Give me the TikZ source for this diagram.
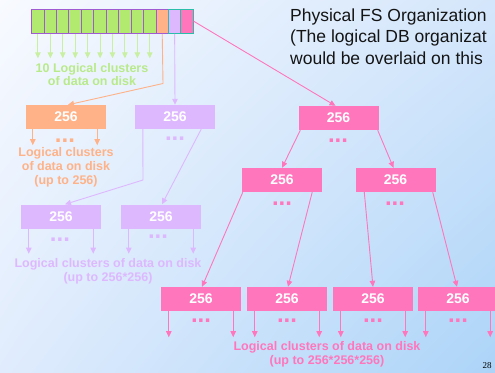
\documentclass[tikz,border=0pt]{standalone}
\usepackage{fontspec}
\setmainfont{Liberation Sans}
\newfontfamily\serifnum{Liberation Serif}
\usetikzlibrary{arrows.meta,shadings}
\definecolor{bgA}{RGB}{248,250,255}
\definecolor{bgB}{RGB}{212,230,251}
\definecolor{bgC}{RGB}{224,236,253}
\definecolor{bgD}{RGB}{172,212,248}
\definecolor{cellgreen}{RGB}{178,234,112}
\definecolor{cellpurple}{RGB}{160,90,210}
\definecolor{cellteal}{RGB}{40,190,170}
\definecolor{orangeC}{RGB}{255,178,135}
\definecolor{lavC}{RGB}{222,184,255}
\definecolor{pinkC}{RGB}{255,118,188}
\definecolor{greenT}{RGB}{184,234,138}
\definecolor{greenA}{RGB}{200,240,160}
\tikzset{
  cellbox/.style={draw=cellpurple,line width=1pt,minimum width=12.43pt,minimum height=24pt,inner sep=0pt,anchor=center},
  blk/.style={fill=#1,minimum width=80pt,minimum height=24pt,inner sep=0pt,text=white,font=\fontsize{14}{14}\selectfont\bfseries},
  arr/.style={draw=#1,line width=0.9pt,-{Triangle[width=5.5pt,length=6pt]}},
  dots/.style={text=#1,font=\fontsize{24}{24}\selectfont\bfseries,inner sep=0pt,anchor=base},
  lbl/.style={text=#1,font=\fontsize{12.5}{13.5}\selectfont\bfseries,align=center,inner sep=0pt},
  ttl/.style={anchor=base west,inner sep=0pt,text={rgb,255:red,20;green,20;blue,20},font=\fontsize{17.5}{17.5}\selectfont}
}
\begin{document}
\begin{tikzpicture}[x=1pt,y=-1pt]
\useasboundingbox (0,0) rectangle (495,372);
\clip (0,0) rectangle (495,372);
\shade[upper left=bgA,upper right=bgB,lower left=bgC,lower right=bgD] (0,0) rectangle (495,372);

% strip of clusters
\foreach \i in {1,...,10}{
  \node[cellbox,fill=cellgreen] (c\i) at ({31.7+(\i-0.5)*12.43},21.3) {};
}
\node[cellbox,fill=orangeC] (c11) at ({31.7+10.5*12.43},21.3) {};
\node[cellbox,fill=lavC,draw=cellteal] (c12) at ({31.7+11.5*12.43},21.3) {};
\node[cellbox,fill=pinkC,draw=cellteal] (c13) at ({31.7+12.5*12.43},21.3) {};

\foreach \i in {1,...,10}{
  \draw[arr=greenA] (c\i.south) -- ++(0,24.5);
}
\node[lbl=greenT] (gl) at (92,74.5) {10 Logical clusters\\of data on disk};

% title text
\node[ttl] (t1) at (290,21) {Physical FS Organization};
\node[ttl] (t2) at (290,42.8) {(The logical DB organizat};
\node[ttl] (t3) at (290,64.3) {would be overlaid on this};

% first level
\node[blk=orangeC] (ob) at (66,117) {256};
\node[blk=lavC] (lb) at (175,117) {256};
\node[blk=pinkC] (pb) at (338.5,118) {256};

\coordinate (ob1) at (163,83.5);
\draw[arr=orangeC] (c11.south) -- (ob1) -- ([xshift=2pt]ob.north);
\draw[arr=lavC] (c12.south) -- (lb.north);
\draw[arr=pinkC] (c13.east) -- ([xshift=-3pt]pb.north);

% orange children
\draw[arr=orangeC] ([xshift=7pt]ob.south west) -- ++(0,16);
\draw[arr=orangeC] ([xshift=-9pt]ob.south east) -- ++(0,16);
\node[dots=orangeC] (od) at (65,142) {...};
\node[lbl=orangeC,font=\fontsize{12.5}{14}\selectfont\bfseries] (ol) at (66,167.5) {Logical clusters\\of data on disk\\(up to 256)};

% lavender
\node[dots=lavC] (ld) at (175,140) {...};
\node[blk=lavC] (l2a) at (61,216.5) {256};
\node[blk=lavC] (l2b) at (161,216.5) {256};
\coordinate (lk) at (143,180);
\draw[arr=lavC] ([xshift=8pt]lb.south west) -- (lk) -- ([xshift=4pt]l2a.north);
\draw[arr=lavC] ([xshift=-14pt]lb.south east) -- ([xshift=1pt]l2b.north);
\foreach \b in {l2a,l2b}{
  \draw[arr=lavC] ([xshift=8pt]\b.south west) -- ++(0,25);
  \draw[arr=lavC] ([xshift=-8pt]\b.south east) -- ++(0,25);
}
\node[dots=lavC] (lda) at (60,241) {...};
\node[dots=lavC] (ldb) at (158,238.5) {...};
\node[lbl=lavC] (ll) at (108,271.5) {Logical clusters of data on disk\\(up to 256*256)};

% pink tree
\node[dots=pinkC] (pd) at (338,142) {...};
\node[blk=pinkC] (pL) at (282,180) {256};
\node[blk=pinkC] (pR) at (395.5,180) {256};
\draw[arr=pinkC] ([xshift=2pt]pb.south west) -- (pL.north);
\draw[arr=pinkC] ([xshift=-1pt]pb.south east) -- ([xshift=-2pt]pR.north);
\node[dots=pinkC] (pdL) at (282,205) {...};
\node[dots=pinkC] (pdR) at (395,205) {...};

\node[blk=pinkC] (p3a) at (201,299) {256};
\node[blk=pinkC] (p3b) at (287,299) {256};
\node[blk=pinkC] (p3c) at (373,299) {256};
\node[blk=pinkC] (p3d) at (458,299) {256};
\draw[arr=pinkC] ([xshift=1pt]pL.south west) -- ([xshift=1pt]p3a.north);
\draw[arr=pinkC] ([xshift=-10pt]pL.south east) -- ([xshift=1pt]p3b.north);
\draw[arr=pinkC] ([xshift=9pt]pR.south west) -- (p3c.north);
\draw[arr=pinkC] ([xshift=-3pt]pR.south east) -- ([xshift=-1pt]p3d.north);
\foreach \b in {p3a,p3b,p3c,p3d}{
  \draw[arr=pinkC] ([xshift=8pt]\b.south west) -- ++(0,26);
  \draw[arr=pinkC] ([xshift=-8pt]\b.south east) -- ++(0,26);
  \node[dots=pinkC] (\b d) at ([yshift=-11pt]\b.south) {...};
}
\node[lbl=pinkC] (pl) at (327,354.5) {Logical clusters of data on disk\\(up to 256*256*256)};

\node[font=\serifnum\fontsize{9}{9}\selectfont,inner sep=0pt] (pg) at (487,366) {28};
\end{tikzpicture}
\end{document}
